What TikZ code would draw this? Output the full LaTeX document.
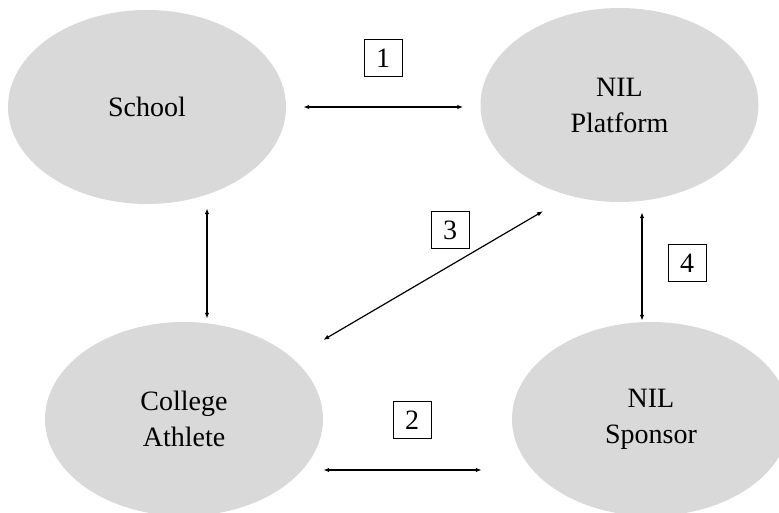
\documentclass[tikz,border=0pt]{standalone}
\usepackage{fontspec}
\setmainfont{Liberation Serif}
\usetikzlibrary{arrows.meta,shapes.geometric}
\definecolor{bubblegray}{HTML}{D9D9D9}

\begin{document}
\begin{tikzpicture}[x=1pt,y=1pt,>={Latex[length=6pt,width=4.5pt]},
  party/.style={ellipse,fill=bubblegray,minimum width=278pt,minimum height=194pt,inner sep=0pt,align=center,font=\fontsize{28}{36}\selectfont},
  tag/.style={draw,line width=0.8pt,minimum width=38pt,minimum height=37pt,inner sep=0pt,font=\fontsize{28}{34}\selectfont},
  link/.style={<->,line width=1.2pt}]
\useasboundingbox (0,0) rectangle (779,513);
\node[party] (school) at (147,406) {School};
\node[party] (platform) at (619.5,408) {NIL\\Platform};
\node[party] (athlete) at (184,94) {College\\Athlete};
\node[party] (sponsor) at (651,94) {NIL\\Sponsor};
% connectors
\draw[link,shorten <=17pt,shorten >=17pt] (school.east) -- ([yshift=-2pt]platform.west);
\draw[link] ([xshift=60pt,yshift=-4pt]school.south) -- ([xshift=23pt,yshift=3pt]athlete.north);
\draw[link] ([yshift=79pt]athlete.east) -- ([xshift=-76.5pt,yshift=-9pt]platform.south);
\draw[link] ([xshift=22.5pt,yshift=-10pt]platform.south) -- ([xshift=-9pt,yshift=1pt]sponsor.north);
\draw[link] ([yshift=-51pt]athlete.east) -- ([xshift=-30pt,yshift=-51pt]sponsor.west);
% numbers
\node[tag] (n1) at (383,455) {1};
\node[tag] (n2) at (412,93) {2};
\node[tag] (n3) at (450,283) {3};
\node[tag] (n4) at (687,250) {4};
\end{tikzpicture}
\end{document}
